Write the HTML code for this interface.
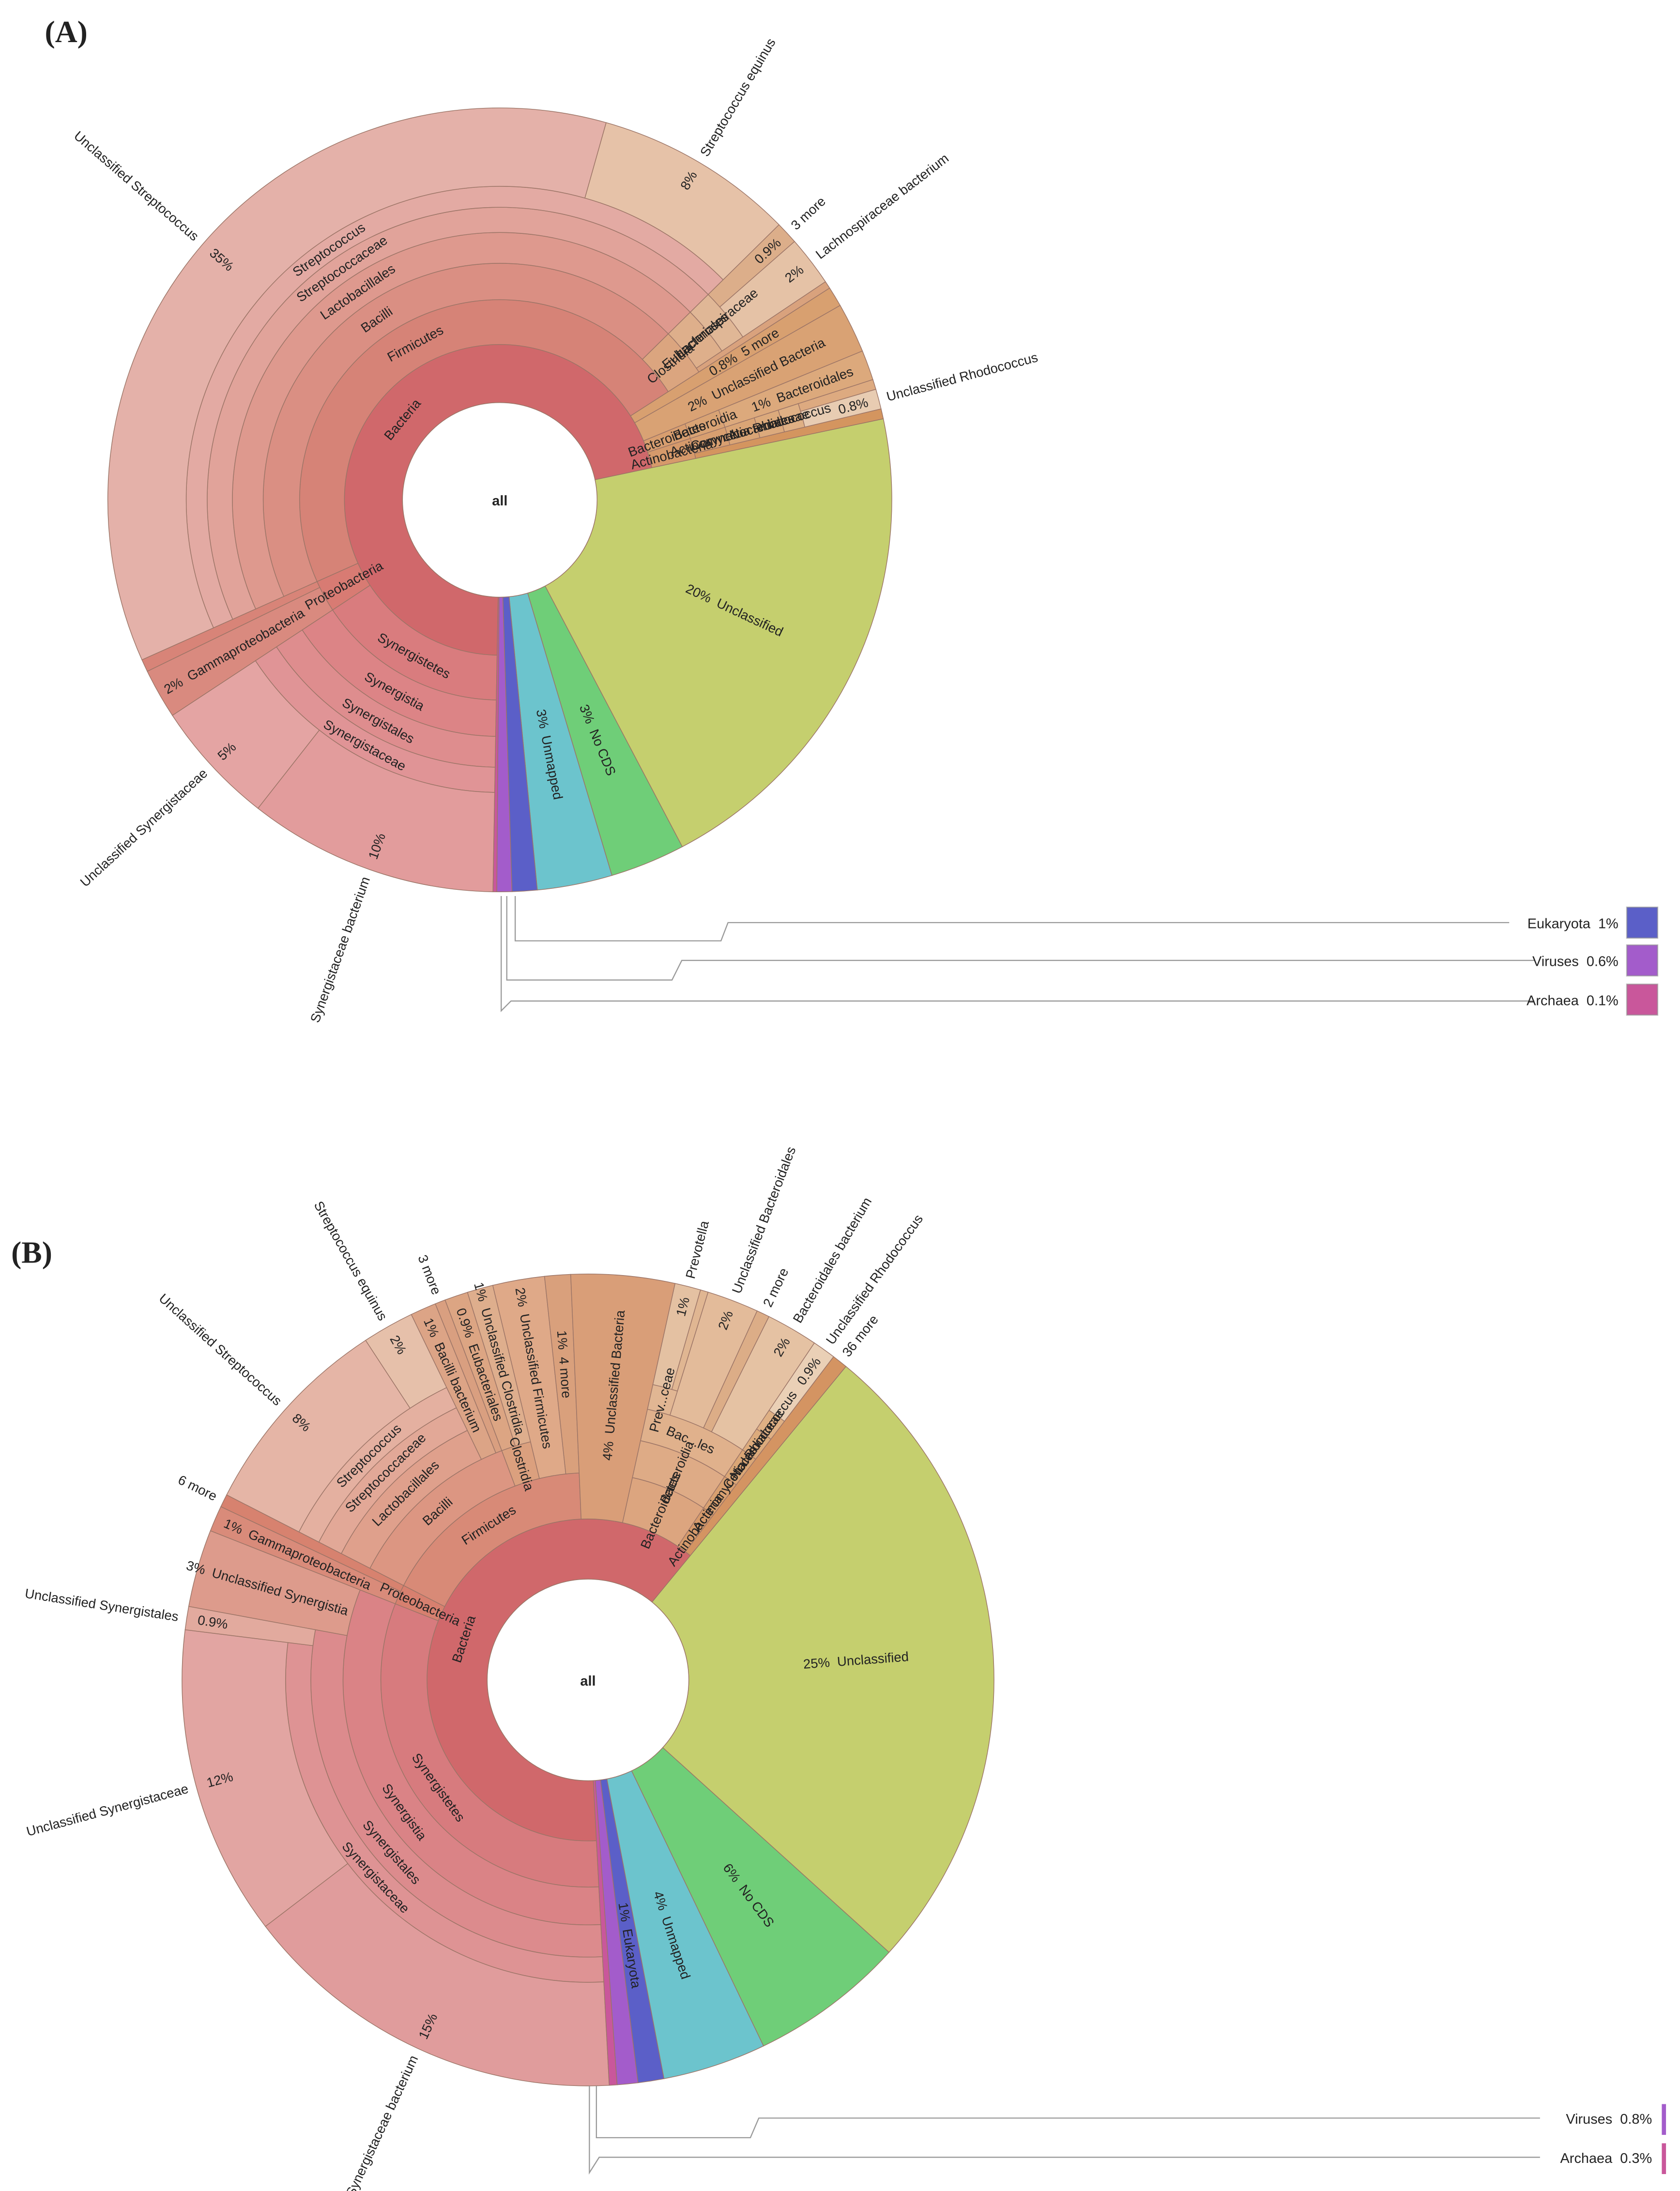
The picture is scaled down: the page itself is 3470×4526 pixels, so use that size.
<!DOCTYPE html>
<html><head><meta charset="utf-8">
<style>
html,body{margin:0;padding:0;background:#fff;}
svg{display:block;}
text{font-family:"Liberation Sans",sans-serif;fill:#222;}
</style></head>
<body>
<svg id="root" width="3470" height="4526" viewBox="0 0 1200 1565" xmlns="http://www.w3.org/2000/svg">
<rect width="1200" height="1565" fill="#fff"/>
<text x="32" y="30" style="font-family:'Liberation Serif',serif;font-size:22px;font-weight:bold">(A)</text>
<text x="8" y="902" style="font-family:'Liberation Serif',serif;font-size:22px;font-weight:bold">(B)</text>
<g id="chartA"></g>
<g id="chartB"></g>

<g fill="none" stroke="#999" stroke-width="0.8">
<polyline points="368,640 368,672 515,672 520,659 1078,659"/>
<polyline points="362,640 362,700 480,700 487,686 1096,686"/>
<polyline points="358,640 358,722 365,715 1096,715"/>
</g>
<g>
<text x="1156" y="663" text-anchor="end" font-size="10">Eukaryota&#160;&#160;1%</text>
<rect x="1162" y="648" width="22" height="22" fill="#5b5fc8" stroke="#8888"/>
<text x="1156" y="690" text-anchor="end" font-size="10">Viruses&#160;&#160;0.6%</text>
<rect x="1162" y="675" width="22" height="22" fill="#a35ccb" stroke="#8888"/>
<text x="1156" y="718" text-anchor="end" font-size="10">Archaea&#160;&#160;0.1%</text>
<rect x="1162" y="703" width="22" height="22" fill="#c9579b" stroke="#8888"/>
</g>
<g fill="none" stroke="#999" stroke-width="0.8">
<polyline points="426,1490 426,1527 536,1527 542,1513 1100,1513"/>
<polyline points="421,1490 421,1552 428,1541 1100,1541"/>
</g>
<g>
<text x="1180" y="1517" text-anchor="end" font-size="10">Viruses&#160;&#160;0.8%</text>
<rect x="1187" y="1503" width="3" height="22" fill="#a35ccb"/>
<text x="1180" y="1545" text-anchor="end" font-size="10">Archaea&#160;&#160;0.3%</text>
<rect x="1187" y="1531" width="3" height="22" fill="#c9579b"/>
</g>
</svg>
<script>
// ---------- Chart A data ----------
const aNames = ["all","Bacteria","Synergistetes","Synergistia","Synergistales","Synergistaceae","Synergistaceae bacterium","Unclassified Synergistaceae","Proteobacteria","Gammaproteobacteria","","Firmicutes","Bacilli","Lactobacillales","Streptococcaceae","Streptococcus","Unclassified Streptococcus","Streptococcus equinus","Clostridia","Eubacteriales","Lachnospiraceae","3 more","Lachnospiraceae bacterium","","5 more","Unclassified Bacteria","Bacteroidetes","Bacteroidia","Bacteroidales","Actinobacteria","Actinomycetia","Corynebacteriales","Nocardiaceae","Rhodococcus","","Unclassified Rhodococcus","","Unclassified","No CDS","Unmapped","Eukaryota","Viruses","Archaea"];
const aParents = [-1,0,1,2,3,4,5,5,1,8,8,1,11,12,13,14,15,15,11,18,19,20,20,18,1,1,1,26,27,1,29,30,31,32,33,33,29,0,0,0,0,0,0];
const aValues = [0,0,0,0,0,0,10,5,0,2,0.5,0,0,0,0,0,35,8,0,0,0,0.9,2,0.3,0.8,2,0,0,1.2,0,0,0,0,0,0.4,0.8,0.4,20,3,3,1,0.6,0.15];
const aColors = ["#fff","#d0686b","#d97c7e","#dc8486","#de8d8e","#e09496","#e29c9c","#e4a4a3","#d87b73","#d98a7f","#d88478","#d68377","#da8f83","#de998e","#e1a39a","#e3aaa3","#e4b1a9","#e6c2a8","#dba57f","#deaf8b","#e0b796","#dcae8a","#e5c2a6","#d9a27d","#d8a070","#d9a274","#d89e6f","#d9a374","#dca97c","#d69a6b","#d89f70","#daa576","#dcaa7c","#dfb084","#ddaa80","#e8ccb2","#d4955f","#c5cf6e","#6fce78","#6cc4cd","#5b5fc8","#a35ccb","#c9579b"];
const aLegendOnly = ["Eukaryota","Viruses","Archaea"];

// ---------- Chart B data ----------
const bNames = ["all","Bacteria","Synergistetes","Synergistia","Synergistales","Synergistaceae","Synergistaceae bacterium","Unclassified Synergistaceae","Unclassified Synergistales","Unclassified Synergistia","Proteobacteria","Gammaproteobacteria","6 more","Firmicutes","Bacilli","Lactobacillales","Streptococcaceae","Streptococcus","Unclassified Streptococcus","Streptococcus equinus","Bacilli bacterium","3 more","Clostridia","Eubacteriales","Unclassified Clostridia","Unclassified Firmicutes","4 more","Unclassified Bacteria","Bacteroidetes","Bacteroidia","Bac...les","Prev...ceae","Prevotella","","Unclassified Bacteroidales","2 more","Bacteroidales bacterium","Actinobacteria","Actinomycetia","Cor...les","Nocardiaceae","Rhodococcus","Unclassified Rhodococcus","36 more","Unclassified","No CDS","Unmapped","Eukaryota","Viruses","Archaea"];
const bParents = [-1,0,1,2,3,4,5,5,4,3,1,10,10,1,13,14,15,16,17,17,14,14,13,22,22,13,13,1,1,28,29,30,31,31,30,30,30,1,37,38,39,40,41,1,0,0,0,0,0,0];
const bValues = [0,0,0,0,0,0,15,12,0.9,3,0,1,0.5,0,0,0,0,0,8,2,1,0.4,0,0.9,1,2,1,4,0,0,0,0,1,0.3,2,0.5,2,0,0,0,0,0,0.9,0.6,25,6,4,1,0.8,0.3];
const bColors = ["#fff","#d0686b","#d77b7e","#da8386","#dc8b8d","#de9394","#e09c9c","#e2a5a2","#e2aa9e","#dd9b8c","#d7806f","#d98b7a","#d7826f","#d88a77","#dc9682","#dfa08c","#e2a897","#e4b0a0","#e5b5a6","#e6c0aa","#dca486","#d99f80","#dba07e","#dca583","#deae8d","#dfa988","#d9a07c","#d99e78","#dca57f","#deab86","#e0b18c","#e1b693","#e4c1a2","#e0b692","#e3bb9a","#dcad87","#e5c2a3","#d69a6b","#d8a070","#daa676","#dcab7c","#dfb084","#ead0b6","#d49462","#c5cf6e","#6fce78","#6cc4cd","#5b5fc8","#a35ccb","#c9579b"];
const bLegendOnly = ["Viruses","Archaea"];

const NS = "http://www.w3.org/2000/svg";
function pt(cx, cy, r, deg) { const a = deg * Math.PI / 180; return [cx + r * Math.sin(a), cy - r * Math.cos(a)]; }
function sector(cx, cy, r0, r1, a0, a1) {
  const large = (a1 - a0) > 180 ? 1 : 0;
  const p1 = pt(cx, cy, r1, a0), p2 = pt(cx, cy, r1, a1), p3 = pt(cx, cy, r0, a1), p4 = pt(cx, cy, r0, a0);
  if (r0 <= 0) return `M${cx},${cy}L${p1}A${r1},${r1} 0 ${large} 1 ${p2}Z`;
  return `M${p1}A${r1},${r1} 0 ${large} 1 ${p2}L${p3}A${r0},${r0} 0 ${large} 0 ${p4}Z`;
}
function slug(s) { return (s || "unlabeled").toLowerCase().replace(/[^a-z0-9]+/g, "-").replace(/^-|-$/g, ""); }
function pctStr(v) { return (v >= 1 ? Math.round(v) : v) + "%"; }

function drawKrona(gid, names, parents, values, colors, legendOnly, cx, cy, radii, outerR, start) {
  const g = document.getElementById(gid);
  const n = names.length;
  const kids = names.map(() => []);
  for (let i = 1; i < n; i++) kids[parents[i]].push(i);
  const sum = names.map(() => 0);
  const depth = names.map(() => 0);
  for (let i = 1; i < n; i++) depth[i] = depth[parents[i]] + 1;
  function tot(i) { let s = values[i]; kids[i].forEach(k => s += tot(k)); sum[i] = s; return s; }
  tot(0);
  const scale = 360 / sum[0];
  const labels = [];
  function lay(i, a0) {
    const a1 = a0 + sum[i] * scale;
    const d = depth[i];
    const leaf = kids[i].length === 0;
    const r0 = radii[d], r1 = leaf ? outerR : radii[d + 1];
    if (i > 0) {
      const p = document.createElementNS(NS, "path");
      p.setAttribute("d", sector(cx, cy, r0, r1, a0, a1));
      p.setAttribute("fill", colors[i]);
      p.setAttribute("stroke", "#9b7466");
      p.setAttribute("stroke-width", "0.5");
      
      
      g.appendChild(p);
      labels.push({ i, a0, a1, r0, r1, leaf });
    }
    let a = a0;
    kids[i].forEach(k => { lay(k, a); a += sum[k] * scale; });
  }
  lay(0, start);
  // center
  const c = document.createElementNS(NS, "circle");
  c.setAttribute("cx", cx); c.setAttribute("cy", cy); c.setAttribute("r", radii[1]);
  c.setAttribute("fill", "#fff"); c.setAttribute("stroke", "#9b7466"); c.setAttribute("stroke-width", "0.5");
  
  
  g.appendChild(c);
  const ct = document.createElementNS(NS, "text");
  ct.setAttribute("x", cx); ct.setAttribute("y", cy + 4); ct.setAttribute("text-anchor", "middle");
  ct.setAttribute("font-size", "10"); ct.setAttribute("font-weight", "bold");
  ct.textContent = "all";
  
  
  g.appendChild(ct);

  function txt(str, r, ang, rot, anchor, nm) {
    const [x, y] = pt(cx, cy, r, ang);
    const t = document.createElementNS(NS, "text");
    t.setAttribute("x", x); t.setAttribute("y", y);
    t.setAttribute("text-anchor", anchor);
    t.setAttribute("dominant-baseline", "central");
    t.setAttribute("font-size", "9.5");
    t.setAttribute("transform", `rotate(${rot} ${x} ${y})`);
    t.textContent = str;
    
    
    g.appendChild(t);
  }
  labels.forEach(L => {
    const nm = names[L.i];
    if (!nm || legendOnly.includes(nm)) return;
    const mid = (L.a0 + L.a1) / 2;
    const m = ((mid % 360) + 360) % 360;
    const right = m < 180;
    const dRad = (L.a1 - L.a0) * Math.PI / 180;
    const radRot = right ? m - 90 : m + 90;
    if (!L.leaf) {
      const midR = (L.r0 + L.r1) / 2;
      const arc = midR * dRad;
      const len = nm.length * 5.2;
      if (arc > len + 8) {
        const rot = (m > 90 && m < 270) ? m - 180 : m;
        txt(nm, midR, mid, rot, "middle", "label-" + slug(nm));
      } else if (arc >= 4) {
        txt(nm, midR, mid, radRot, "middle", "label-" + slug(nm));
      }
      return;
    }
    const v = values[L.i];
    const arcOuter = L.r1 * dRad;
    if (arcOuter < 3) return;
    const arcMid = (L.r0 + L.r1) / 2 * dRad;
    if (L.r1 - L.r0 > 100 && arcMid >= 9) {
      txt(pctStr(v) + "\u00a0\u00a0" + nm, L.r0 + (L.r1 - L.r0) * 0.55, mid, radRot, "middle", "label-" + slug(nm));
    } else {
      txt(nm, L.r1 + 6, mid, radRot, right ? "start" : "end", "label-" + slug(nm));
      if (arcOuter >= 7 && v >= 0.8) txt(pctStr(v), L.r1 - 8, mid, radRot, right ? "end" : "start", "pct-" + slug(nm));
    }
  });
}

drawKrona("chartA", aNames, aParents, aValues, aColors, aLegendOnly, 357, 357,
  [0, 69.5, 111, 143, 169, 191, 209, 224, 280], 280, 181);
drawKrona("chartB", bNames, bParents, bValues, bColors, bLegendOnly, 420, 1200,
  [0, 72, 115, 148, 175, 198, 216, 232, 290], 290, 177);
</script>
</body></html>
